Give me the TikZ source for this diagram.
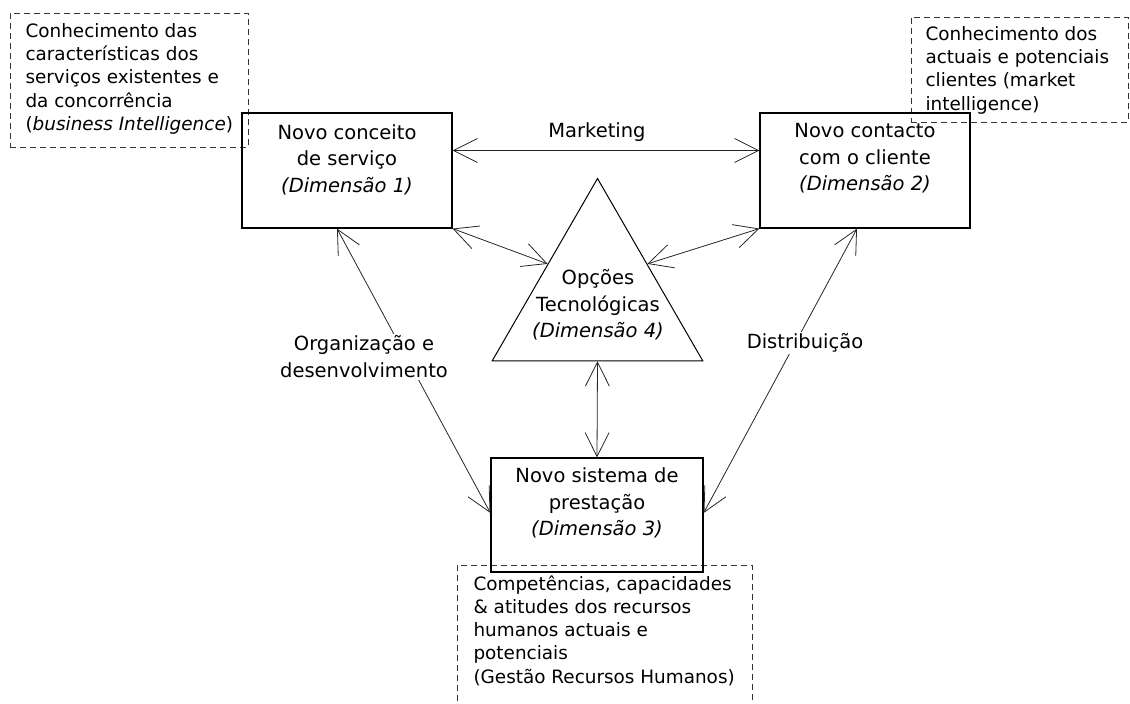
\documentclass[tikz,border=0pt]{standalone}
\usepackage{fontspec}
\setmainfont{DejaVu Sans}
\usetikzlibrary{shapes.geometric, arrows.meta, positioning, calc}

\begin{document}
\begin{tikzpicture}[
    x=1pt, y=-1pt,
    dimbox/.style={
        rectangle, draw=black, line width=1.2pt, inner sep=0pt,
        minimum width=210pt, minimum height=115pt
    },
    dimtext/.style={align=center, font=\fontsize{19.5}{26.5}\selectfont},
    notebox/.style={
        rectangle, draw=black!80, line width=0.8pt,
        dash pattern=on 6pt off 4pt, inner sep=0pt
    },
    notetext/.style={align=left, font=\fontsize{18.4}{23.2}\selectfont},
    flowlabel/.style={align=center, fill=white, inner sep=2pt, font=\fontsize{19.5}{27}\selectfont},
    link/.style={{Straight Barb[length=24pt,width=24pt]}-{Straight Barb[length=24pt,width=24pt]}, line width=0.8pt, black!85}
]
    \useasboundingbox (0,0) rectangle (1130,704);

    %% Context notes (dashed)
    \node[notebox, minimum width=238pt, minimum height=134pt] (bizint) at (129,80) {};
    \node[notetext, anchor=north west] (bizinttxt) at (22,20) {Conhecimento das\\características dos\\serviços existentes e\\da concorrência\\(\textit{business Intelligence})};
    \node[notebox, minimum width=217pt, minimum height=105pt] (mktint) at (1019.5,69.5) {};
    \node[notetext, anchor=north west] (mktinttxt) at (922,23) {Conhecimento dos\\actuais e potenciais\\clientes (market\\intelligence)};
    \node[notebox, minimum width=295pt, minimum height=160pt] (rh) at (604.5,645) {};
    \node[notetext, anchor=north west] (rhtxt) at (470,572) {Competências, capacidades\\\& atitudes dos recursos\\humanos actuais e\\potenciais\\(Gestão Recursos Humanos)};

    %% Four dimensions
    \node[dimbox] (dim1) at (347,170.5) {};
    \node[dimtext] (dim1txt) at ([yshift=11pt]dim1.center) {Novo conceito\\de serviço\\\textit{(Dimensão 1)}};
    \node[dimbox] (dim2) at (865,170.5) {};
    \node[dimtext] (dim2txt) at ([yshift=12pt]dim2.center) {Novo contacto\\com o cliente\\\textit{(Dimensão 2)}};
    \node[dimbox, minimum width=212pt, minimum height=114pt] (dim3) at (597,515) {};
    \node[dimtext] (dim3txt) at ([yshift=12pt]dim3.center) {Novo sistema de\\prestação\\\textit{(Dimensão 3)}};
    \node[regular polygon, regular polygon sides=3, draw=black, line width=1pt,
          inner sep=0pt, minimum size=243pt] (dim4) at (597.5,300) {};
    \node[dimtext] (dim4txt) at (598,305) {Opções\\Tecnológicas\\\textit{(Dimensão 4)}};

    %% Links
    \draw[link] ([yshift=20pt]dim1.east) -- ([yshift=20pt]dim2.west);
    \draw[link] (dim1.south east) -- ($(dim4.corner 1)!0.47!(dim4.corner 2)$);
    \draw[link] (dim2.south west) -- ($(dim4.corner 1)!0.47!(dim4.corner 3)$);
    \draw[link] ($(dim4.corner 2)!0.5!(dim4.corner 3)$) -- (dim3.north);
    \draw[link] ([xshift=-10pt]dim1.south) -- ([yshift=2pt]dim3.west);
    \draw[link] ([xshift=-8pt]dim2.south) -- ([yshift=2pt]dim3.east);

    %% Flow labels
    \node[flowlabel, fill=none] (mkt) at (597,132) {Marketing};
    \node[flowlabel] (org) at (364,357) {Organização e\\desenvolvimento};
    \node[flowlabel] (dist) at (805,343) {Distribuição};
\end{tikzpicture}
\end{document}
